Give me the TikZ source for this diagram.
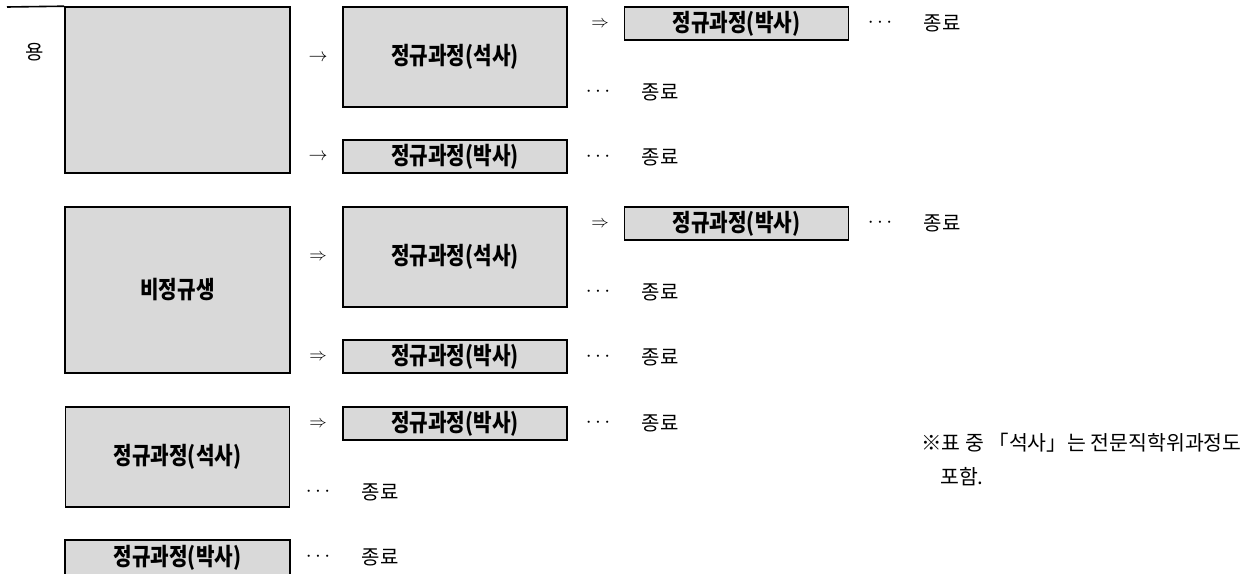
\documentclass[tikz,border=0pt]{standalone}
\usepackage{fontspec}
\newfontfamily\kr{Noto Sans CJK KR}
\newfontfamily\krc[FakeStretch=0.84]{Noto Sans CJK KR}
\begin{document}
\begin{tikzpicture}[x=1pt,y=-1pt,
  box/.style={draw=black,line width=1.6pt,fill=boxgray,inner sep=0pt,
    font=\krc\bfseries\fontsize{24}{27}\selectfont},
  bigbox/.style={box,minimum width=225pt,minimum height=166pt},
  midbox/.style={box,minimum width=224pt,minimum height=100pt},
  slimbox/.style={box,minimum width=224pt,minimum height=33pt},
  lbl/.style={inner sep=0pt,font=\kr\fontsize{20}{24}\selectfont},
  sym/.style={inner sep=0pt,font=\fontsize{10}{12}\selectfont}]
\definecolor{boxgray}{HTML}{D9D9D9}
\newcommand\myra{\scalebox{1.9}{$\rightarrow$}}
\newcommand\myRa{\scalebox{1.75}{$\Rightarrow$}}
\newcommand\mydots{\scalebox{2.1}{$\cdots$}}
\useasboundingbox (0,0) rectangle (1255,573);
% section 1
\node[bigbox] (big1) at (177.5,90) {};
\coordinate (ln) at (7,7);
\draw[line width=1.6pt] (ln) -- (big1.north west);
\node[lbl] (yong) at (35,52) {용};
\node[midbox] (s1) at (455,57) {정규과정(석사)};
\node[slimbox] (b1a) at (455,156.5) {정규과정(박사)};
\node[slimbox] (b1b) at (736.5,23.5) {정규과정(박사)};
\node[sym] (a1) at (318,58) {\myra};
\node[sym] (a2) at (318,157) {\myra};
\node[sym] (a3) at (600,24) {\myRa};
\node[sym] (d1) at (598,92) {\mydots};
\node[lbl] (e1) at (660,92) {종료};
\node[sym] (d2) at (598,157) {\mydots};
\node[lbl] (e2) at (660,157) {종료};
\node[sym] (d3) at (880,23) {\mydots};
\node[lbl] (e3) at (942,23) {종료};
% section 2
\node[bigbox] (big2) at (177.5,290) {비정규생};
\node[midbox] (s2) at (455,257) {정규과정(석사)};
\node[slimbox] (b2a) at (455,356.5) {정규과정(박사)};
\node[slimbox] (b2b) at (736.5,223.5) {정규과정(박사)};
\node[sym] (a4) at (318,257) {\myRa};
\node[sym] (a5) at (318,357) {\myRa};
\node[sym] (a6) at (600,224) {\myRa};
\node[sym] (d4) at (598,292) {\mydots};
\node[lbl] (e4) at (660,292) {종료};
\node[sym] (d5) at (598,357) {\mydots};
\node[lbl] (e5) at (660,357) {종료};
\node[sym] (d6) at (880,223) {\mydots};
\node[lbl] (e6) at (942,223) {종료};
% section 3
\node[midbox] (s3) at (177.5,457) {정규과정(석사)};
\node[slimbox] (b3) at (455,423.5) {정규과정(박사)};
\node[sym] (a7) at (318,424) {\myRa};
\node[sym] (d7) at (598,423) {\mydots};
\node[lbl] (e7) at (660,423) {종료};
\node[sym] (d8) at (318,492) {\mydots};
\node[lbl] (e8) at (380,492) {종료};
% section 4
\node[box,minimum width=225pt,minimum height=36pt] (b4) at (177.5,558) {\raisebox{1pt}{정규과정(박사)}};
\node[sym] (d9) at (318,557) {\mydots};
\node[lbl] (e9) at (380,557) {종료};
% note
\node[lbl,anchor=west,font=\kr\fontsize{20.5}{24}\selectfont] (n1) at (921,443) {※표 중 「석사」는 전문직학위과정도};
\node[lbl,anchor=west,font=\kr\fontsize{20.5}{24}\selectfont] (n2) at (940,477) {포함.};
\end{tikzpicture}
\end{document}
